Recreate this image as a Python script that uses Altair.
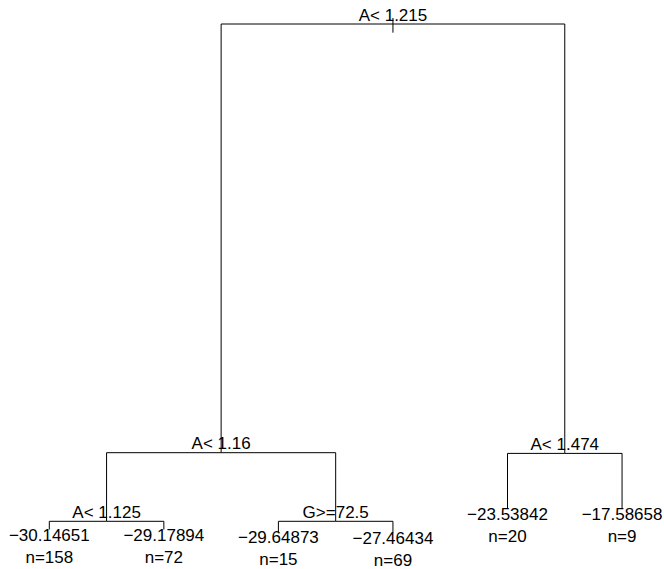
import altair as alt
import pandas as pd

# Tree structure (rpart-style regression tree)
node_id = [1, 2, 3, 4, 5, 8, 9, 10, 11, 6, 7]
parent = [0, 1, 1, 2, 2, 4, 4, 5, 5, 3, 3]
split_label = ["A< 1.215", "A< 1.16", "A< 1.474", "A< 1.125", "G>=72.5",
               "", "", "", "", "", ""]
leaf_value = ["", "", "", "", "",
              "−30.14651", "−29.17894", "−29.64873", "−27.46434", "−23.53842", "−17.58658"]
leaf_n = [None, None, None, None, None, 158, 72, 15, 69, 20, 9]
# vertical position of each node (deviance-based depth)
node_depth = [24.0, 452.7, 453.4, 521.3, 521.3, 529.5, 529.5, 532.0, 532.5, 508.3, 508.5]
# root stub extent (above / below the root level)
root_stub = [-6.0, 8.7]

W, H = 664, 569
FONT = "Liberation Sans"
FS = 17

nodes = pd.DataFrame({"id": node_id, "parent": parent, "split": split_label,
                      "value": leaf_value, "n": leaf_n, "depth": node_depth})
children = {i: [c for c, p in zip(node_id, parent) if p == i] for i in node_id}

# leaf order position, internal nodes at midpoint of children
pos = {}
counter = [0]


def place(i):
    ch = sorted(children[i])
    if not ch:
        counter[0] += 1
        pos[i] = float(counter[0])
    else:
        for c in ch:
            place(c)
        pos[i] = sum(pos[c] for c in ch) / len(ch)
    return pos[i]


place(1)
nodes["pos"] = nodes["id"].map(pos)
depth = dict(zip(nodes["id"], nodes["depth"]))

segs = []
for i, p in zip(node_id, parent):
    if p == 0:
        segs.append({"x": pos[i], "x2": pos[i], "y": depth[i] + root_stub[0], "y2": depth[i] + root_stub[1]})
        continue
    segs.append({"x": pos[i], "x2": pos[i], "y": depth[i], "y2": depth[p]})
    segs.append({"x": pos[i], "x2": pos[p], "y": depth[p], "y2": depth[p]})
segs = pd.DataFrame(segs)

# scales: leaf 1 at ~49px, spacing ~114.5px
xdom = [1 - 49.3 / 114.55, 1 + (W - 49.3) / 114.55]
xs = alt.Scale(domain=xdom, nice=False, zero=False)
ys = alt.Scale(domain=[H, 0], nice=False, zero=False)

lines = alt.Chart(segs).mark_rule(color="black", strokeWidth=1).encode(
    x=alt.X("x:Q", scale=xs, axis=None),
    x2="x2:Q",
    y=alt.Y("y:Q", scale=ys, axis=None),
    y2="y2:Q",
)

splits = alt.Chart(nodes[nodes["split"] != ""]).mark_text(
    font=FONT, fontSize=FS, color="black", baseline="alphabetic", align="center", dy=-3.5
).encode(
    x=alt.X("pos:Q", scale=xs, axis=None),
    y=alt.Y("depth:Q", scale=ys, axis=None),
    text="split:N",
)

leaves = nodes[nodes["value"] != ""].copy()
leaves["nlab"] = "n=" + leaves["n"].astype(int).astype(str)

vals = alt.Chart(leaves).mark_text(
    font=FONT, fontSize=FS, color="black", baseline="alphabetic", align="center", dy=11.4
).encode(
    x=alt.X("pos:Q", scale=xs, axis=None),
    y=alt.Y("depth:Q", scale=ys, axis=None),
    text="value:N",
)

ns = alt.Chart(leaves).mark_text(
    font=FONT, fontSize=FS, color="black", baseline="alphabetic", align="center", dy=33.3
).encode(
    x=alt.X("pos:Q", scale=xs, axis=None),
    y=alt.Y("depth:Q", scale=ys, axis=None),
    text="nlab:N",
)

chart = alt.layer(lines, splits, vals, ns).properties(
    width=W, height=H, padding=0, autosize=alt.AutoSizeParams(type="none")
).configure_view(stroke=None)

chart.save("out.html", embed_options={"renderer": "svg", "actions": False})
